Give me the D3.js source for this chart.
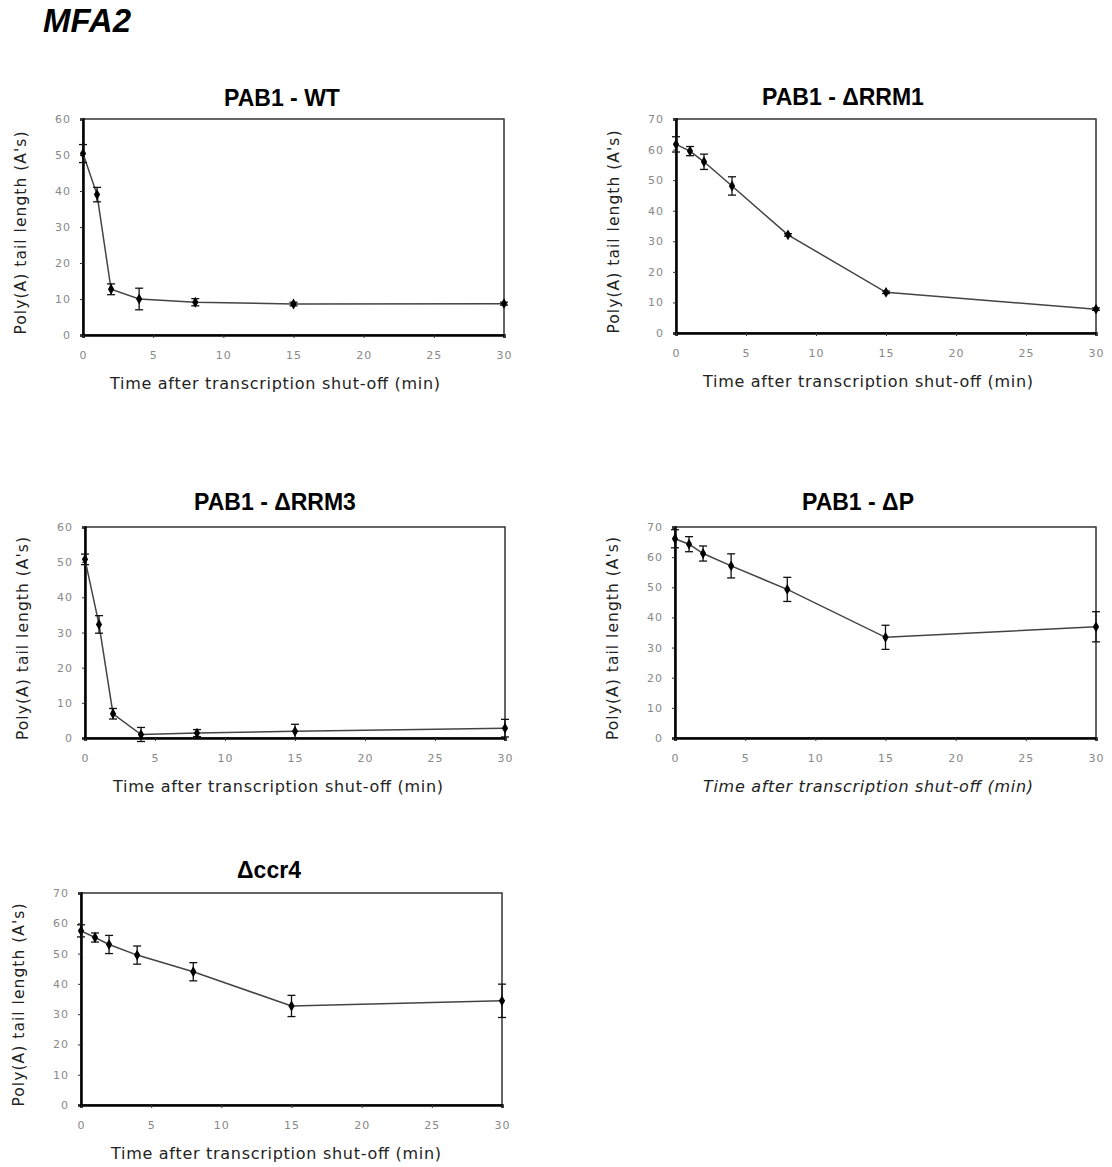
<!DOCTYPE html>
<html>
<meta charset="utf-8">
<style>
  body { margin: 0; background: #fff; }
  text { font-family: "DejaVu Sans", Verdana, sans-serif; }
</style>
<body>
<script src="https://d3js.org/d3.v7.min.js"></script>
<script>
// time points (min)
var times = [0, 1, 2, 4, 8, 15, 30];
var xTicks = [0, 5, 10, 15, 20, 25, 30];

// poly(A) tail length, mean and error per strain
var wtMean   = [50.4, 39, 12.7, 10, 9.1, 8.6, 8.7];
var wtErr    = [2.5, 2, 1.5, 3, 1, 0.5, 0.4];
var rrm1Mean = [61.7, 59.5, 56, 48.1, 32.1, 13.3, 7.8];
var rrm1Err  = [2.5, 1.5, 2.5, 3, 0.4, 0.4, 0.4];
var rrm3Mean = [50.8, 32.3, 6.9, 1, 1.4, 1.9, 2.8];
var rrm3Err  = [1.5, 2.5, 1.5, 2, 1, 2, 2.5];
var dpMean   = [66.1, 64.3, 61.2, 57.1, 49.3, 33.4, 36.9];
var dpErr    = [3, 2.5, 2.5, 4, 4, 4, 5];
var ccrMean  = [57.5, 55.3, 53, 49.5, 44, 32.7, 34.4];
var ccrErr   = [2, 1.5, 3, 3, 3, 3.5, 5.5];

var titles = ["PAB1 - WT", "PAB1 - \u0394RRM1", "PAB1 - \u0394RRM3", "PAB1 - \u0394P", "\u0394ccr4"];
var yMaxes = [60, 70, 60, 70, 70];

// layout: plot boxes [left, top, right, bottom], title anchor, x-title centre
var boxes = [
  [83, 119, 504, 335],
  [676, 119, 1096, 333],
  [85, 527, 505, 738],
  [675, 527, 1096, 738],
  [81, 893, 502, 1105]
];
var titlePos = [[282, 106], [843, 105], [275, 510], [858, 510], [269, 878]];
var xTitleX = [275, 868, 278, 868, 276];
var italicX = [false, false, false, true, false];

var panels = [
  [wtMean, wtErr], [rrm1Mean, rrm1Err], [rrm3Mean, rrm3Err], [dpMean, dpErr], [ccrMean, ccrErr]
];

var svg = d3.select("body").append("svg")
  .attr("width", 1112).attr("height", 1167);

svg.append("text")
  .attr("x", 43).attr("y", 32)
  .style("font-size", "33px").style("font-weight", "bold").style("font-style", "italic")
  .style("font-family", "'Liberation Sans', Arial, sans-serif")
  .text("MFA2");

panels.forEach(function(p, i) {
  var b = boxes[i];
  var x = d3.scaleLinear().domain([0, 30]).range([b[0], b[2]]);
  var y = d3.scaleLinear().domain([0, yMaxes[i]]).range([b[3], b[1]]);
  var g = svg.append("g");

  g.append("text")
    .attr("x", titlePos[i][0]).attr("y", titlePos[i][1])
    .attr("text-anchor", "middle")
    .style("font-family", "'Liberation Sans', Arial, sans-serif")
    .style("font-size", "23px").style("font-weight", "bold")
    .text(titles[i]);

  // frame
  g.append("rect")
    .attr("x", b[0]).attr("y", b[1])
    .attr("width", b[2] - b[0]).attr("height", b[3] - b[1])
    .attr("fill", "none").attr("stroke", "#333").attr("stroke-width", 1.5);

  var yAxis = d3.axisLeft(y).tickValues(d3.range(0, yMaxes[i] + 1, 10)).tickSize(3).tickPadding(9);
  var xAxis = d3.axisBottom(x).tickValues(xTicks).tickSize(3).tickPadding(13);

  var ya = g.append("g").attr("transform", "translate(" + b[0] + ",0)").call(yAxis);
  var xa = g.append("g").attr("transform", "translate(0," + b[3] + ")").call(xAxis);
  [ya, xa].forEach(function(a) {
    a.select(".domain").attr("stroke", "#000").attr("stroke-width", 2.5);
    a.selectAll(".tick line").attr("stroke", "#333");
    a.selectAll(".tick text").attr("fill", "#888").style("font-size", "11px")
      .style("letter-spacing", "1px")
      .style("font-family", "'DejaVu Sans', sans-serif");
  });

  g.append("text")
    .attr("transform", "translate(" + (b[0] - 57) + "," + ((b[1] + b[3]) / 2 + 6) + ") rotate(-90)")
    .attr("text-anchor", "middle")
    .attr("textLength", 203)
    .style("font-size", "15.5px").attr("fill", "#222")
    .text("Poly(A) tail length (A's)");

  g.append("text")
    .attr("x", xTitleX[i]).attr("y", b[3] + 54)
    .attr("text-anchor", "middle")
    .attr("textLength", 330)
    .style("font-size", "16px").attr("fill", "#222")
    .style("font-style", italicX[i] ? "italic" : "normal")
    .text("Time after transcription shut-off (min)");

  var pts = times.map(function(t, k) { return {t: t, v: p[0][k], e: p[1][k]}; });

  g.append("path")
    .datum(pts)
    .attr("fill", "none").attr("stroke", "#444").attr("stroke-width", 1.5)
    .attr("d", d3.line().x(function(d) { return x(d.t); }).y(function(d) { return y(d.v); }));

  var eb = g.selectAll(".eb").data(pts).join("g");
  eb.append("line")
    .attr("x1", function(d) { return x(d.t); }).attr("x2", function(d) { return x(d.t); })
    .attr("y1", function(d) { return y(d.v - d.e); }).attr("y2", function(d) { return y(d.v + d.e); })
    .attr("stroke", "#111").attr("stroke-width", 1.3);
  [-1, 1].forEach(function(s) {
    eb.append("line")
      .attr("x1", function(d) { return x(d.t) - 4; }).attr("x2", function(d) { return x(d.t) + 4; })
      .attr("y1", function(d) { return y(d.v + s * d.e); }).attr("y2", function(d) { return y(d.v + s * d.e); })
      .attr("stroke", "#111").attr("stroke-width", 1.3);
  });

  g.selectAll(".pt").data(pts).join("path")
    .attr("transform", function(d) { return "translate(" + x(d.t) + "," + y(d.v) + ")"; })
    .attr("d", d3.symbol().type(d3.symbolDiamond).size(34))
    .attr("fill", "#000");
});
</script>
</body>
</html>
